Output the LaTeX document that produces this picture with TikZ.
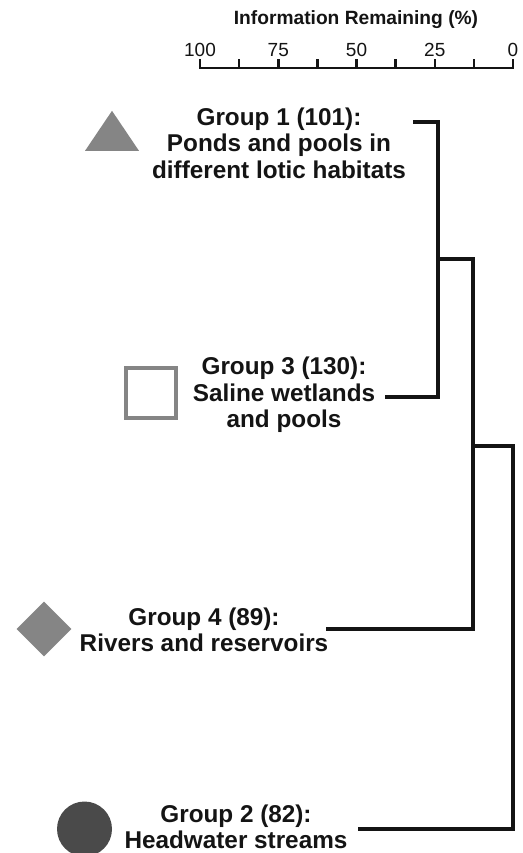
\documentclass[tikz,border=0pt]{standalone}
\usepackage{fontspec}
\setmainfont{Liberation Sans}
\usetikzlibrary{shapes.geometric}
\definecolor{ink}{HTML}{141414}
\definecolor{symgray}{HTML}{858585}
\definecolor{symdark}{HTML}{4A4A4A}
\begin{document}
\begin{tikzpicture}[x=1pt,y=-1pt,
  grouplabel/.style={align=center,font=\fontsize{24.3}{26.5}\selectfont\bfseries,text=ink,inner sep=0pt},
  dendro/.style={draw=ink,line width=3.2pt,line join=miter,line cap=rect},
  axisline/.style={draw=ink,line width=2.5pt,line cap=rect},
  ticklabel/.style={font=\fontsize{19}{20}\selectfont,text=ink,inner sep=0pt}]
\useasboundingbox[fill=white] (0,0) rectangle (522,853);
% axis
\node[font=\fontsize{19.2}{20}\selectfont\bfseries,text=ink,inner sep=0pt] (title) at (356,20) {Information Remaining (\%)};
\draw[axisline] (200,68) -- (513,68);
\foreach \i in {0,...,8} {
  \draw[axisline] ({200+\i*39.125},68) -- ({200+\i*39.125},60);
}
\foreach \v/\i in {100/0,75/2,50/4,25/6,0/8} {
  \node[ticklabel] (t\v) at ({200+\i*39.125},50) {\v};
}
% symbols
\node[draw=none,fill=symgray,isosceles triangle,isosceles triangle apex angle=68,shape border rotate=90,minimum height=40pt,minimum width=54pt,inner sep=0pt] (s1) at (112,136.5) {};
\node[draw=symgray,line width=4pt,fill=white,minimum size=50pt,inner sep=0pt] (s3) at (151,393) {};
\node[fill=symgray,diamond,minimum width=55pt,minimum height=55pt,inner sep=0pt] (s4) at (44,629) {};
\node[fill=symdark,circle,minimum size=55pt,inner sep=0pt] (s2) at (84.5,829) {};
% labels
\node[grouplabel] (g1) at (279,143) {Group 1 (101):\\Ponds and pools in\\different lotic habitats};
\node[grouplabel] (g3) at (284,395) {Group 3 (130):\\Saline wetlands\\and pools};
\node[grouplabel] (g4) at (204,630) {Group 4 (89):\\Rivers and reservoirs};
\node[grouplabel] (g2) at (236,827) {Group 2 (82):\\Headwater streams};
% leaf ends and junctions
\coordinate (l1) at (415,122);
\coordinate (l3) at (387,397);
\coordinate (l4) at (328,629);
\coordinate (l2) at (360,829);
\coordinate (a3) at (438,397);
\coordinate (m1) at (438,259);
\coordinate (b4) at (473,629);
\coordinate (m2) at (473,446);
\coordinate (c2) at (513,829);
\draw[dendro] (l1) -| (a3) -- (l3);
\draw[dendro] (m1) -| (b4) -- (l4);
\draw[dendro] (m2) -| (c2) -- (l2);
\end{tikzpicture}
\end{document}
